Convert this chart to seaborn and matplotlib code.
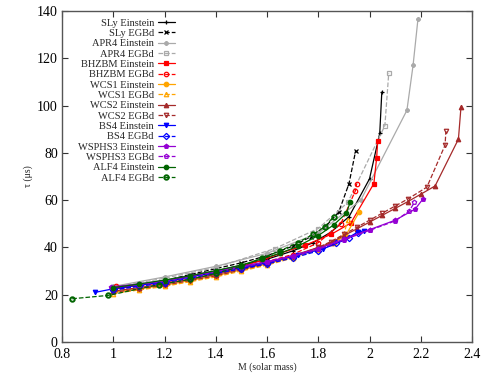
import matplotlib
matplotlib.use("Agg")
import matplotlib.pyplot as plt
import seaborn as sns
import pandas as pd

# mass (solar mass) and tau (microseconds) for each EOS
sly_ein_m = [1.0, 1.1, 1.2, 1.3, 1.4, 1.5, 1.6, 1.7, 1.78, 1.85, 1.92, 2.0, 2.04, 2.048]
sly_ein_t = [22.5, 24, 26, 28, 30, 32.5, 35, 38.5, 42, 46.5, 53, 69, 88.3, 105.7]
sly_egb_m = [1.0, 1.1, 1.2, 1.3, 1.4, 1.5, 1.6, 1.7, 1.77, 1.83, 1.88, 1.92, 1.946]
sly_egb_t = [22, 24, 26, 28.5, 31, 33.5, 36.5, 40.5, 44.5, 49, 55, 67, 80.9]
apr4_ein_m = [1.0, 1.2, 1.4, 1.6, 1.8, 1.966, 2.146, 2.17, 2.189]
apr4_ein_t = [23.5, 27.5, 32, 37.5, 46, 60, 98, 117, 136.5]
apr4_egb_m = [1.0, 1.2, 1.4, 1.63, 1.8, 1.915, 2.06, 2.075]
apr4_egb_t = [23, 27, 31.5, 39.5, 48, 59, 91.5, 113.6]
bhzbm_ein_m = [1.0, 1.1, 1.2, 1.3, 1.4, 1.5, 1.58, 1.65, 1.75, 1.85, 1.927, 2.017, 2.028, 2.032]
bhzbm_ein_t = [22.5, 24, 25.5, 27.5, 29.5, 32, 34.5, 37.5, 41, 45.5, 50.3, 67, 78, 85]
bhzbm_egb_m = [1.01, 1.1, 1.2, 1.3, 1.4, 1.5, 1.6, 1.7, 1.8, 1.888, 1.945, 1.95]
bhzbm_egb_t = [23.5, 24, 25, 26.5, 29, 31.5, 34, 37, 42, 50, 64, 67]
wcs1_ein_m = [1.0, 1.1, 1.2, 1.3, 1.4, 1.5, 1.6, 1.7, 1.8, 1.86, 1.907, 1.96]
wcs1_ein_t = [21, 22.5, 24, 26, 28, 30.5, 33, 36, 39.5, 42, 45, 55]
wcs1_egb_m = [1.0, 1.1, 1.2, 1.3, 1.4, 1.5, 1.6, 1.7, 1.8, 1.9, 1.915]
wcs1_egb_t = [20.5, 22, 23.5, 25.5, 27.5, 30, 32.5, 35.5, 39, 45.5, 51.5]
wcs2_ein_m = [1.0, 1.1, 1.2, 1.3, 1.4, 1.5, 1.6, 1.7, 1.8, 1.85, 1.9, 1.95, 2.0, 2.05,
              2.1, 2.15, 2.2, 2.256, 2.347, 2.357]
wcs2_ein_t = [21.5, 23, 24.5, 26.5, 28.5, 31, 33.5, 36.5, 40, 42, 45, 47.8, 50.7, 53.6,
              56.5, 59.4, 62.5, 66, 85.8, 99.4]
wcs2_egb_m = [1.0, 1.1, 1.2, 1.3, 1.4, 1.5, 1.6, 1.7, 1.8, 1.85, 1.9, 1.95, 2.0, 2.05,
              2.1, 2.15, 2.224, 2.295, 2.298]
wcs2_egb_t = [21, 22.5, 24, 26, 28, 30.5, 33, 36, 40, 42.5, 45.5, 48.5, 51.5, 54.5,
              57.5, 60.5, 65.5, 83.3, 89.2]
bs4_ein_m = [0.93, 1.0, 1.1, 1.2, 1.3, 1.4, 1.5, 1.6, 1.72, 1.817, 1.9, 1.954, 1.978]
bs4_ein_t = [21, 22.5, 24, 25.5, 27.5, 29.5, 31.5, 33.5, 36.8, 39.3, 43, 46.5, 47]
bs4_egb_m = [1.0, 1.1, 1.2, 1.3, 1.4, 1.5, 1.6, 1.7, 1.8, 1.87, 1.92, 1.955]
bs4_egb_t = [22, 23.5, 25, 27, 29, 31, 33, 35.5, 38.5, 42, 44, 46]
wsphs3_ein_m = [0.99, 1.1, 1.2, 1.3, 1.4, 1.5, 1.6, 1.7, 1.8, 1.9, 2.0, 2.1, 2.178, 2.208]
wsphs3_ein_t = [23.3, 24.5, 26, 28, 30, 32, 34, 36.5, 39.5, 43.5, 47.5, 51.5, 56.2, 60.4]
wsphs3_egb_m = [1.0, 1.1, 1.2, 1.3, 1.4, 1.5, 1.6, 1.7, 1.8, 1.9, 2.0, 2.1, 2.155, 2.175]
wsphs3_egb_t = [23, 24.3, 25.8, 27.7, 29.7, 31.7, 33.7, 36.2, 39.2, 43.2, 47.2, 51.2, 55.4, 59]
alf4_ein_m = [1.0, 1.1, 1.2, 1.3, 1.4, 1.5, 1.58, 1.65, 1.72, 1.8, 1.86, 1.91, 1.924]
alf4_ein_t = [23, 24.5, 26.2, 28, 30.2, 32.5, 35.2, 37.5, 40.5, 45, 49.5, 54.5, 59]
alf4_egb_m = [0.84, 0.98, 1.18, 1.3, 1.4, 1.5, 1.58, 1.65, 1.72, 1.78, 1.825, 1.86]
alf4_egb_t = [18.3, 19.7, 24.3, 26.5, 29, 32, 35.5, 38.5, 42, 45.5, 48.7, 53]

series = [
    ("SLy Einstein", sly_ein_m, sly_ein_t, "black", "-", "+", True),
    ("SLy EGBd", sly_egb_m, sly_egb_t, "black", "--", "x", True),
    ("APR4 Einstein", apr4_ein_m, apr4_ein_t, "#aaaaaa", "-", (8, 2, 0), True),
    ("APR4 EGBd", apr4_egb_m, apr4_egb_t, "#aaaaaa", "--", "s", False),
    ("BHZBM Einstein", bhzbm_ein_m, bhzbm_ein_t, "red", "-", "s", True),
    ("BHZBM EGBd", bhzbm_egb_m, bhzbm_egb_t, "red", "--", "o", False),
    ("WCS1 Einstein", wcs1_ein_m, wcs1_ein_t, "orange", "-", "o", True),
    ("WCS1 EGBd", wcs1_egb_m, wcs1_egb_t, "orange", "--", "^", False),
    ("WCS2 Einstein", wcs2_ein_m, wcs2_ein_t, "#a52a2a", "-", "^", True),
    ("WCS2 EGBd", wcs2_egb_m, wcs2_egb_t, "#a52a2a", "--", "v", False),
    ("BS4 Einstein", bs4_ein_m, bs4_ein_t, "blue", "-", "v", True),
    ("BS4 EGBd", bs4_egb_m, bs4_egb_t, "blue", "--", "D", False),
    ("WSPHS3 Einstein", wsphs3_ein_m, wsphs3_ein_t, "#9400d3", "-", "p", True),
    ("WSPHS3 EGBd", wsphs3_egb_m, wsphs3_egb_t, "#9400d3", "--", "p", False),
    ("ALF4 Einstein", alf4_ein_m, alf4_ein_t, "#006400", "-", "o", True),
    ("ALF4 EGBd", alf4_egb_m, alf4_egb_t, "#006400", "--", "o", False),
]

sns.set_style("ticks")
plt.rcParams["font.family"] = ["Liberation Serif", "DejaVu Serif"]

fig = plt.figure(figsize=(4.86, 3.74), dpi=100)
ax = fig.add_axes([0.1276, 0.0856, 0.8436, 0.885])

for name, m, t, color, ls, marker, filled in series:
    df = pd.DataFrame({"M": m, "tau": t})
    face = color if filled else "none"
    mew = 1.4 if name == "ALF4 EGBd" else 0.9
    sns.lineplot(data=df, x="M", y="tau", ax=ax, sort=False, color=color,
                 linestyle=ls, linewidth=0.9, marker=marker, markersize=3.2,
                 markerfacecolor=face, markeredgecolor=color, markeredgewidth=mew,
                 label=name)

ax.set_xlim(0.8, 2.4)
ax.set_ylim(0, 140)
ax.set_xticks([0.8, 1.0, 1.2, 1.4, 1.6, 1.8, 2.0, 2.2, 2.4])
ax.set_xticklabels(["0.8", "1", "1.2", "1.4", "1.6", "1.8", "2", "2.2", "2.4"])
ax.set_yticks(range(0, 141, 20))
ax.tick_params(direction="in", length=4, width=0.8, top=True, right=True,
               labelsize=10, colors="#333333", labelcolor="black", pad=3)
ax.tick_params(axis="x", pad=4)
for s in ax.spines.values():
    s.set_color("#555555")
    s.set_linewidth(1.0)
ax.set_xlabel("M (solar mass)", fontsize=7, labelpad=1)
ax.set_ylabel("τ (μs)", fontsize=7, labelpad=3)

ax.legend(loc="upper right", bbox_to_anchor=(182 / 486, 1 - 11 / 374),
          bbox_transform=fig.transFigure, frameon=False, markerfirst=False,
          fontsize=7.5, labelspacing=0.1, handlelength=1.6, handletextpad=0.4,
          borderpad=0.2)

fig.savefig("out.png", dpi=100)
